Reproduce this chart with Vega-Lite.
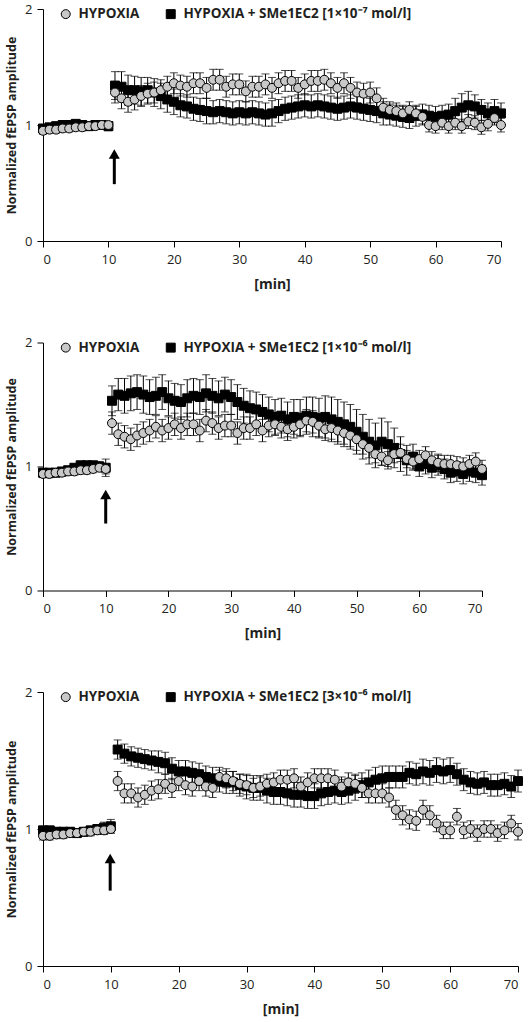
{
"$schema":"https://vega.github.io/schema/vega-lite/v6.json",
"padding":{"left":5,"top":3,"right":5,"bottom":3},
"spacing":45.5,
"config":{
"view":{"stroke":null},
"font":"Open Sans",
"axis":{"domainColor":"black","domainWidth":1,"tickColor":"black","tickWidth":1,"tickSize":6,"grid":false,"labelFont":"Open Sans","labelFontSize":13,"labelColor":"#231f20","titleFont":"Open Sans","titleFontSize":12.5,"titleFontWeight":"bold","titleColor":"#231f20"},
"axisX":{"labelPadding":6,"titlePadding":11,"labelAngle":0,"titleFontSize":14},
"axisY":{"labelPadding":5,"titlePadding":6,"format":"d"},
"legend":{"orient":"none","legendX":16,"legendY":-2,"direction":"horizontal","title":null,"labelFont":"Open Sans","labelFontWeight":"bold","labelFontSize":13.5,"labelColor":"#231f20","labelLimit":400,"symbolSize":80,"symbolStrokeColor":"black","symbolStrokeWidth":1,"labelOffset":6,"columnPadding":24}
},
"datasets":{
"arrows":[{"p":1,"t":10.9,"y0":0.49,"y1":0.72,"yh":0.75},{"p":2,"t":10.0,"y0":0.54,"y1":0.76,"yh":0.775},{"p":3,"t":9.9,"y0":0.55,"y1":0.77,"yh":0.785}],
"p1":[
{"s":"S","t":0,"v":0.97,"e":0.03},{"s":"S","t":1,"v":0.98,"e":0.03},{"s":"S","t":2,"v":0.99,"e":0.03},{"s":"S","t":3,"v":1.0,"e":0.03},{"s":"S","t":4,"v":1.0,"e":0.03},{"s":"S","t":5,"v":1.01,"e":0.03},{"s":"S","t":6,"v":1.0,"e":0.03},{"s":"S","t":7,"v":0.99,"e":0.03},{"s":"S","t":8,"v":1.0,"e":0.03},{"s":"S","t":9,"v":1.0,"e":0.03},{"s":"S","t":10,"v":0.99,"e":0.04},
{"s":"S","t":11,"v":1.34,"e":0.12},{"s":"S","t":12,"v":1.33,"e":0.13},{"s":"S","t":13,"v":1.3,"e":0.13},{"s":"S","t":14,"v":1.3,"e":0.12},{"s":"S","t":15,"v":1.29,"e":0.12},{"s":"S","t":16,"v":1.3,"e":0.11},{"s":"S","t":17,"v":1.28,"e":0.12},{"s":"S","t":18,"v":1.25,"e":0.11},{"s":"S","t":19,"v":1.22,"e":0.11},{"s":"S","t":20,"v":1.2,"e":0.11},
{"s":"S","t":21,"v":1.17,"e":0.1},{"s":"S","t":22,"v":1.16,"e":0.1},{"s":"S","t":23,"v":1.14,"e":0.1},{"s":"S","t":24,"v":1.13,"e":0.1},{"s":"S","t":25,"v":1.12,"e":0.11},{"s":"S","t":26,"v":1.11,"e":0.1},{"s":"S","t":27,"v":1.12,"e":0.1},{"s":"S","t":28,"v":1.11,"e":0.1},{"s":"S","t":29,"v":1.1,"e":0.1},{"s":"S","t":30,"v":1.11,"e":0.1},
{"s":"S","t":31,"v":1.1,"e":0.1},{"s":"S","t":32,"v":1.11,"e":0.1},{"s":"S","t":33,"v":1.1,"e":0.1},{"s":"S","t":34,"v":1.09,"e":0.1},{"s":"S","t":35,"v":1.1,"e":0.11},{"s":"S","t":36,"v":1.12,"e":0.1},{"s":"S","t":37,"v":1.14,"e":0.1},{"s":"S","t":38,"v":1.15,"e":0.1},{"s":"S","t":39,"v":1.16,"e":0.1},{"s":"S","t":40,"v":1.17,"e":0.1},
{"s":"S","t":41,"v":1.16,"e":0.1},{"s":"S","t":42,"v":1.17,"e":0.1},{"s":"S","t":43,"v":1.16,"e":0.1},{"s":"S","t":44,"v":1.15,"e":0.1},{"s":"S","t":45,"v":1.14,"e":0.1},{"s":"S","t":46,"v":1.15,"e":0.1},{"s":"S","t":47,"v":1.16,"e":0.1},{"s":"S","t":48,"v":1.15,"e":0.1},{"s":"S","t":49,"v":1.14,"e":0.1},{"s":"S","t":50,"v":1.13,"e":0.1},
{"s":"S","t":51,"v":1.12,"e":0.1},{"s":"S","t":52,"v":1.1,"e":0.1},{"s":"S","t":53,"v":1.09,"e":0.09},{"s":"S","t":54,"v":1.08,"e":0.09},{"s":"S","t":55,"v":1.07,"e":0.09},{"s":"S","t":56,"v":1.06,"e":0.09},{"s":"S","t":57,"v":1.08,"e":0.09},{"s":"S","t":58,"v":1.09,"e":0.09},{"s":"S","t":59,"v":1.08,"e":0.09},{"s":"S","t":60,"v":1.07,"e":0.09},
{"s":"S","t":61,"v":1.08,"e":0.09},{"s":"S","t":62,"v":1.09,"e":0.09},{"s":"S","t":63,"v":1.12,"e":0.11},{"s":"S","t":64,"v":1.15,"e":0.12},{"s":"S","t":65,"v":1.17,"e":0.12},{"s":"S","t":66,"v":1.16,"e":0.1},{"s":"S","t":67,"v":1.13,"e":0.09},{"s":"S","t":68,"v":1.1,"e":0.09},{"s":"S","t":69,"v":1.12,"e":0.1},{"s":"S","t":70,"v":1.1,"e":0.09},
{"s":"H","t":0,"v":0.95,"e":0.03},{"s":"H","t":1,"v":0.96,"e":0.03},{"s":"H","t":2,"v":0.96,"e":0.03},{"s":"H","t":3,"v":0.97,"e":0.03},{"s":"H","t":4,"v":0.97,"e":0.03},{"s":"H","t":5,"v":0.98,"e":0.03},{"s":"H","t":6,"v":0.98,"e":0.03},{"s":"H","t":7,"v":0.99,"e":0.03},{"s":"H","t":8,"v":0.99,"e":0.03},{"s":"H","t":9,"v":1.0,"e":0.03},{"s":"H","t":10,"v":1.0,"e":0.03},
{"s":"H","t":11,"v":1.28,"e":0.09},{"s":"H","t":12,"v":1.23,"e":0.09},{"s":"H","t":13,"v":1.2,"e":0.09},{"s":"H","t":14,"v":1.22,"e":0.09},{"s":"H","t":15,"v":1.25,"e":0.09},{"s":"H","t":16,"v":1.27,"e":0.09},{"s":"H","t":17,"v":1.28,"e":0.09},{"s":"H","t":18,"v":1.3,"e":0.09},{"s":"H","t":19,"v":1.33,"e":0.09},{"s":"H","t":20,"v":1.36,"e":0.09},
{"s":"H","t":21,"v":1.34,"e":0.09},{"s":"H","t":22,"v":1.33,"e":0.09},{"s":"H","t":23,"v":1.36,"e":0.09},{"s":"H","t":24,"v":1.36,"e":0.09},{"s":"H","t":25,"v":1.32,"e":0.09},{"s":"H","t":26,"v":1.39,"e":0.09},{"s":"H","t":27,"v":1.39,"e":0.09},{"s":"H","t":28,"v":1.33,"e":0.09},{"s":"H","t":29,"v":1.35,"e":0.09},{"s":"H","t":30,"v":1.35,"e":0.09},
{"s":"H","t":31,"v":1.29,"e":0.09},{"s":"H","t":32,"v":1.33,"e":0.09},{"s":"H","t":33,"v":1.33,"e":0.09},{"s":"H","t":34,"v":1.35,"e":0.09},{"s":"H","t":35,"v":1.32,"e":0.09},{"s":"H","t":36,"v":1.36,"e":0.09},{"s":"H","t":37,"v":1.38,"e":0.09},{"s":"H","t":38,"v":1.38,"e":0.09},{"s":"H","t":39,"v":1.32,"e":0.09},{"s":"H","t":40,"v":1.35,"e":0.09},
{"s":"H","t":41,"v":1.38,"e":0.09},{"s":"H","t":42,"v":1.38,"e":0.09},{"s":"H","t":43,"v":1.39,"e":0.09},{"s":"H","t":44,"v":1.36,"e":0.09},{"s":"H","t":45,"v":1.32,"e":0.09},{"s":"H","t":46,"v":1.36,"e":0.09},{"s":"H","t":47,"v":1.32,"e":0.09},{"s":"H","t":48,"v":1.28,"e":0.09},{"s":"H","t":49,"v":1.27,"e":0.09},{"s":"H","t":50,"v":1.28,"e":0.09},
{"s":"H","t":51,"v":1.23,"e":0.09},{"s":"H","t":52,"v":1.15,"e":0.08},{"s":"H","t":53,"v":1.13,"e":0.07},{"s":"H","t":54,"v":1.12,"e":0.07},{"s":"H","t":55,"v":1.1,"e":0.07},{"s":"H","t":56,"v":1.13,"e":0.07},{"s":"H","t":57,"v":1.1,"e":0.06},{"s":"H","t":58,"v":1.07,"e":0.06},{"s":"H","t":59,"v":1.0,"e":0.06},{"s":"H","t":60,"v":0.99,"e":0.06},
{"s":"H","t":61,"v":1.02,"e":0.06},{"s":"H","t":62,"v":0.99,"e":0.06},{"s":"H","t":63,"v":1.02,"e":0.06},{"s":"H","t":64,"v":0.99,"e":0.06},{"s":"H","t":65,"v":1.03,"e":0.06},{"s":"H","t":66,"v":1.02,"e":0.06},{"s":"H","t":67,"v":0.98,"e":0.06},{"s":"H","t":68,"v":1.01,"e":0.06},{"s":"H","t":69,"v":1.06,"e":0.06},{"s":"H","t":70,"v":1.0,"e":0.06}
],
"p2":[
{"s":"S","t":0,"v":0.95,"e":0.03},{"s":"S","t":1,"v":0.95,"e":0.03},{"s":"S","t":2,"v":0.95,"e":0.03},{"s":"S","t":3,"v":0.96,"e":0.03},{"s":"S","t":4,"v":0.97,"e":0.03},{"s":"S","t":5,"v":0.99,"e":0.03},{"s":"S","t":6,"v":1.01,"e":0.03},{"s":"S","t":7,"v":1.01,"e":0.03},{"s":"S","t":8,"v":1.01,"e":0.03},{"s":"S","t":9,"v":1.0,"e":0.04},{"s":"S","t":10,"v":0.99,"e":0.07},
{"s":"S","t":11,"v":1.53,"e":0.12},{"s":"S","t":12,"v":1.58,"e":0.13},{"s":"S","t":13,"v":1.57,"e":0.14},{"s":"S","t":14,"v":1.59,"e":0.14},{"s":"S","t":15,"v":1.6,"e":0.14},{"s":"S","t":16,"v":1.58,"e":0.15},{"s":"S","t":17,"v":1.56,"e":0.14},{"s":"S","t":18,"v":1.57,"e":0.15},{"s":"S","t":19,"v":1.6,"e":0.14},{"s":"S","t":20,"v":1.55,"e":0.14},
{"s":"S","t":21,"v":1.53,"e":0.14},{"s":"S","t":22,"v":1.52,"e":0.14},{"s":"S","t":23,"v":1.55,"e":0.15},{"s":"S","t":24,"v":1.57,"e":0.14},{"s":"S","t":25,"v":1.56,"e":0.14},{"s":"S","t":26,"v":1.59,"e":0.15},{"s":"S","t":27,"v":1.57,"e":0.14},{"s":"S","t":28,"v":1.55,"e":0.14},{"s":"S","t":29,"v":1.58,"e":0.14},{"s":"S","t":30,"v":1.56,"e":0.14},
{"s":"S","t":31,"v":1.52,"e":0.14},{"s":"S","t":32,"v":1.49,"e":0.14},{"s":"S","t":33,"v":1.47,"e":0.14},{"s":"S","t":34,"v":1.46,"e":0.14},{"s":"S","t":35,"v":1.44,"e":0.14},{"s":"S","t":36,"v":1.42,"e":0.14},{"s":"S","t":37,"v":1.4,"e":0.14},{"s":"S","t":38,"v":1.41,"e":0.14},{"s":"S","t":39,"v":1.38,"e":0.14},{"s":"S","t":40,"v":1.4,"e":0.14},
{"s":"S","t":41,"v":1.39,"e":0.15},{"s":"S","t":42,"v":1.41,"e":0.15},{"s":"S","t":43,"v":1.4,"e":0.16},{"s":"S","t":44,"v":1.39,"e":0.16},{"s":"S","t":45,"v":1.4,"e":0.17},{"s":"S","t":46,"v":1.38,"e":0.18},{"s":"S","t":47,"v":1.36,"e":0.18},{"s":"S","t":48,"v":1.34,"e":0.18},{"s":"S","t":49,"v":1.32,"e":0.18},{"s":"S","t":50,"v":1.28,"e":0.18},
{"s":"S","t":51,"v":1.24,"e":0.18},{"s":"S","t":52,"v":1.2,"e":0.18},{"s":"S","t":53,"v":1.17,"e":0.18},{"s":"S","t":54,"v":1.2,"e":0.19},{"s":"S","t":55,"v":1.18,"e":0.18},{"s":"S","t":56,"v":1.15,"e":0.16},{"s":"S","t":57,"v":1.1,"e":0.14},{"s":"S","t":58,"v":1.05,"e":0.12},{"s":"S","t":59,"v":1.08,"e":0.1},{"s":"S","t":60,"v":1.0,"e":0.08},
{"s":"S","t":61,"v":1.02,"e":0.08},{"s":"S","t":62,"v":0.99,"e":0.08},{"s":"S","t":63,"v":1.01,"e":0.08},{"s":"S","t":64,"v":0.98,"e":0.08},{"s":"S","t":65,"v":0.95,"e":0.08},{"s":"S","t":66,"v":0.96,"e":0.08},{"s":"S","t":67,"v":0.94,"e":0.08},{"s":"S","t":68,"v":0.96,"e":0.08},{"s":"S","t":69,"v":0.95,"e":0.08},{"s":"S","t":70,"v":0.93,"e":0.08},
{"s":"H","t":0,"v":0.94,"e":0.03},{"s":"H","t":1,"v":0.94,"e":0.03},{"s":"H","t":2,"v":0.95,"e":0.03},{"s":"H","t":3,"v":0.95,"e":0.03},{"s":"H","t":4,"v":0.96,"e":0.03},{"s":"H","t":5,"v":0.96,"e":0.03},{"s":"H","t":6,"v":0.97,"e":0.03},{"s":"H","t":7,"v":0.97,"e":0.03},{"s":"H","t":8,"v":0.98,"e":0.03},{"s":"H","t":9,"v":0.99,"e":0.03},{"s":"H","t":10,"v":0.98,"e":0.04},
{"s":"H","t":11,"v":1.35,"e":0.09},{"s":"H","t":12,"v":1.26,"e":0.09},{"s":"H","t":13,"v":1.24,"e":0.09},{"s":"H","t":14,"v":1.22,"e":0.09},{"s":"H","t":15,"v":1.25,"e":0.09},{"s":"H","t":16,"v":1.27,"e":0.09},{"s":"H","t":17,"v":1.29,"e":0.09},{"s":"H","t":18,"v":1.32,"e":0.09},{"s":"H","t":19,"v":1.29,"e":0.09},{"s":"H","t":20,"v":1.31,"e":0.09},
{"s":"H","t":21,"v":1.34,"e":0.09},{"s":"H","t":22,"v":1.31,"e":0.09},{"s":"H","t":23,"v":1.34,"e":0.09},{"s":"H","t":24,"v":1.34,"e":0.09},{"s":"H","t":25,"v":1.29,"e":0.09},{"s":"H","t":26,"v":1.37,"e":0.09},{"s":"H","t":27,"v":1.35,"e":0.09},{"s":"H","t":28,"v":1.31,"e":0.09},{"s":"H","t":29,"v":1.33,"e":0.09},{"s":"H","t":30,"v":1.33,"e":0.09},
{"s":"H","t":31,"v":1.27,"e":0.09},{"s":"H","t":32,"v":1.31,"e":0.09},{"s":"H","t":33,"v":1.31,"e":0.09},{"s":"H","t":34,"v":1.34,"e":0.09},{"s":"H","t":35,"v":1.29,"e":0.09},{"s":"H","t":36,"v":1.33,"e":0.09},{"s":"H","t":37,"v":1.34,"e":0.09},{"s":"H","t":38,"v":1.32,"e":0.09},{"s":"H","t":39,"v":1.3,"e":0.09},{"s":"H","t":40,"v":1.32,"e":0.09},
{"s":"H","t":41,"v":1.34,"e":0.09},{"s":"H","t":42,"v":1.37,"e":0.09},{"s":"H","t":43,"v":1.36,"e":0.09},{"s":"H","t":44,"v":1.33,"e":0.09},{"s":"H","t":45,"v":1.3,"e":0.09},{"s":"H","t":46,"v":1.31,"e":0.09},{"s":"H","t":47,"v":1.29,"e":0.09},{"s":"H","t":48,"v":1.27,"e":0.09},{"s":"H","t":49,"v":1.25,"e":0.09},{"s":"H","t":50,"v":1.22,"e":0.09},
{"s":"H","t":51,"v":1.18,"e":0.08},{"s":"H","t":52,"v":1.15,"e":0.08},{"s":"H","t":53,"v":1.1,"e":0.07},{"s":"H","t":54,"v":1.08,"e":0.07},{"s":"H","t":55,"v":1.05,"e":0.07},{"s":"H","t":56,"v":1.1,"e":0.07},{"s":"H","t":57,"v":1.11,"e":0.07},{"s":"H","t":58,"v":1.06,"e":0.07},{"s":"H","t":59,"v":1.04,"e":0.07},{"s":"H","t":60,"v":1.06,"e":0.07},
{"s":"H","t":61,"v":1.09,"e":0.07},{"s":"H","t":62,"v":1.05,"e":0.07},{"s":"H","t":63,"v":1.03,"e":0.07},{"s":"H","t":64,"v":1.02,"e":0.07},{"s":"H","t":65,"v":1.02,"e":0.07},{"s":"H","t":66,"v":1.01,"e":0.07},{"s":"H","t":67,"v":1.0,"e":0.07},{"s":"H","t":68,"v":1.02,"e":0.07},{"s":"H","t":69,"v":1.04,"e":0.07},{"s":"H","t":70,"v":0.98,"e":0.07}
],
"p3":[
{"s":"S","t":0,"v":0.99,"e":0.03},{"s":"S","t":1,"v":0.99,"e":0.03},{"s":"S","t":2,"v":0.98,"e":0.03},{"s":"S","t":3,"v":0.98,"e":0.03},{"s":"S","t":4,"v":0.98,"e":0.03},{"s":"S","t":5,"v":0.97,"e":0.03},{"s":"S","t":6,"v":0.98,"e":0.03},{"s":"S","t":7,"v":0.99,"e":0.03},{"s":"S","t":8,"v":1.0,"e":0.03},{"s":"S","t":9,"v":1.01,"e":0.04},{"s":"S","t":10,"v":1.02,"e":0.05},
{"s":"S","t":11,"v":1.58,"e":0.07},{"s":"S","t":12,"v":1.55,"e":0.07},{"s":"S","t":13,"v":1.53,"e":0.07},{"s":"S","t":14,"v":1.52,"e":0.07},{"s":"S","t":15,"v":1.51,"e":0.07},{"s":"S","t":16,"v":1.5,"e":0.07},{"s":"S","t":17,"v":1.49,"e":0.08},{"s":"S","t":18,"v":1.48,"e":0.08},{"s":"S","t":19,"v":1.44,"e":0.08},{"s":"S","t":20,"v":1.42,"e":0.08},
{"s":"S","t":21,"v":1.42,"e":0.08},{"s":"S","t":22,"v":1.41,"e":0.08},{"s":"S","t":23,"v":1.4,"e":0.08},{"s":"S","t":24,"v":1.38,"e":0.08},{"s":"S","t":25,"v":1.37,"e":0.08},{"s":"S","t":26,"v":1.35,"e":0.08},{"s":"S","t":27,"v":1.34,"e":0.08},{"s":"S","t":28,"v":1.34,"e":0.08},{"s":"S","t":29,"v":1.32,"e":0.08},{"s":"S","t":30,"v":1.31,"e":0.09},
{"s":"S","t":31,"v":1.3,"e":0.09},{"s":"S","t":32,"v":1.3,"e":0.09},{"s":"S","t":33,"v":1.28,"e":0.09},{"s":"S","t":34,"v":1.27,"e":0.09},{"s":"S","t":35,"v":1.27,"e":0.09},{"s":"S","t":36,"v":1.26,"e":0.09},{"s":"S","t":37,"v":1.25,"e":0.09},{"s":"S","t":38,"v":1.25,"e":0.09},{"s":"S","t":39,"v":1.24,"e":0.09},{"s":"S","t":40,"v":1.24,"e":0.09},
{"s":"S","t":41,"v":1.26,"e":0.09},{"s":"S","t":42,"v":1.27,"e":0.09},{"s":"S","t":43,"v":1.28,"e":0.09},{"s":"S","t":44,"v":1.27,"e":0.09},{"s":"S","t":45,"v":1.28,"e":0.09},{"s":"S","t":46,"v":1.3,"e":0.09},{"s":"S","t":47,"v":1.32,"e":0.09},{"s":"S","t":48,"v":1.34,"e":0.09},{"s":"S","t":49,"v":1.36,"e":0.09},{"s":"S","t":50,"v":1.37,"e":0.09},
{"s":"S","t":51,"v":1.38,"e":0.08},{"s":"S","t":52,"v":1.38,"e":0.08},{"s":"S","t":53,"v":1.38,"e":0.08},{"s":"S","t":54,"v":1.41,"e":0.08},{"s":"S","t":55,"v":1.4,"e":0.08},{"s":"S","t":56,"v":1.42,"e":0.09},{"s":"S","t":57,"v":1.41,"e":0.09},{"s":"S","t":58,"v":1.43,"e":0.09},{"s":"S","t":59,"v":1.42,"e":0.09},{"s":"S","t":60,"v":1.43,"e":0.09},
{"s":"S","t":61,"v":1.4,"e":0.08},{"s":"S","t":62,"v":1.36,"e":0.08},{"s":"S","t":63,"v":1.34,"e":0.08},{"s":"S","t":64,"v":1.33,"e":0.08},{"s":"S","t":65,"v":1.34,"e":0.08},{"s":"S","t":66,"v":1.32,"e":0.08},{"s":"S","t":67,"v":1.32,"e":0.08},{"s":"S","t":68,"v":1.33,"e":0.08},{"s":"S","t":69,"v":1.31,"e":0.08},{"s":"S","t":70,"v":1.35,"e":0.08},
{"s":"H","t":0,"v":0.95,"e":0.03},{"s":"H","t":1,"v":0.95,"e":0.03},{"s":"H","t":2,"v":0.96,"e":0.03},{"s":"H","t":3,"v":0.96,"e":0.03},{"s":"H","t":4,"v":0.97,"e":0.03},{"s":"H","t":5,"v":0.97,"e":0.03},{"s":"H","t":6,"v":0.98,"e":0.03},{"s":"H","t":7,"v":0.98,"e":0.03},{"s":"H","t":8,"v":0.99,"e":0.03},{"s":"H","t":9,"v":0.99,"e":0.03},{"s":"H","t":10,"v":1.0,"e":0.03},
{"s":"H","t":11,"v":1.35,"e":0.07},{"s":"H","t":12,"v":1.26,"e":0.07},{"s":"H","t":13,"v":1.26,"e":0.07},{"s":"H","t":14,"v":1.23,"e":0.07},{"s":"H","t":15,"v":1.25,"e":0.07},{"s":"H","t":16,"v":1.28,"e":0.07},{"s":"H","t":17,"v":1.29,"e":0.07},{"s":"H","t":18,"v":1.33,"e":0.07},{"s":"H","t":19,"v":1.3,"e":0.07},{"s":"H","t":20,"v":1.35,"e":0.07},
{"s":"H","t":21,"v":1.32,"e":0.07},{"s":"H","t":22,"v":1.31,"e":0.07},{"s":"H","t":23,"v":1.35,"e":0.07},{"s":"H","t":24,"v":1.31,"e":0.07},{"s":"H","t":25,"v":1.3,"e":0.07},{"s":"H","t":26,"v":1.38,"e":0.07},{"s":"H","t":27,"v":1.37,"e":0.07},{"s":"H","t":28,"v":1.35,"e":0.07},{"s":"H","t":29,"v":1.33,"e":0.07},{"s":"H","t":30,"v":1.32,"e":0.07},
{"s":"H","t":31,"v":1.3,"e":0.07},{"s":"H","t":32,"v":1.31,"e":0.07},{"s":"H","t":33,"v":1.33,"e":0.07},{"s":"H","t":34,"v":1.34,"e":0.07},{"s":"H","t":35,"v":1.36,"e":0.07},{"s":"H","t":36,"v":1.36,"e":0.07},{"s":"H","t":37,"v":1.37,"e":0.07},{"s":"H","t":38,"v":1.31,"e":0.07},{"s":"H","t":39,"v":1.34,"e":0.07},{"s":"H","t":40,"v":1.37,"e":0.07},
{"s":"H","t":41,"v":1.37,"e":0.07},{"s":"H","t":42,"v":1.37,"e":0.07},{"s":"H","t":43,"v":1.36,"e":0.07},{"s":"H","t":44,"v":1.31,"e":0.07},{"s":"H","t":45,"v":1.34,"e":0.07},{"s":"H","t":46,"v":1.33,"e":0.07},{"s":"H","t":47,"v":1.3,"e":0.07},{"s":"H","t":48,"v":1.26,"e":0.07},{"s":"H","t":49,"v":1.26,"e":0.07},{"s":"H","t":50,"v":1.26,"e":0.07},
{"s":"H","t":51,"v":1.23,"e":0.07},{"s":"H","t":52,"v":1.14,"e":0.07},{"s":"H","t":53,"v":1.1,"e":0.07},{"s":"H","t":54,"v":1.07,"e":0.07},{"s":"H","t":55,"v":1.06,"e":0.07},{"s":"H","t":56,"v":1.14,"e":0.07},{"s":"H","t":57,"v":1.1,"e":0.07},{"s":"H","t":58,"v":1.04,"e":0.06},{"s":"H","t":59,"v":0.99,"e":0.06},{"s":"H","t":60,"v":0.99,"e":0.06},
{"s":"H","t":61,"v":1.09,"e":0.06},{"s":"H","t":62,"v":0.99,"e":0.06},{"s":"H","t":63,"v":1.0,"e":0.06},{"s":"H","t":64,"v":0.97,"e":0.06},{"s":"H","t":65,"v":1.0,"e":0.06},{"s":"H","t":66,"v":1.0,"e":0.06},{"s":"H","t":67,"v":0.97,"e":0.06},{"s":"H","t":68,"v":0.99,"e":0.06},{"s":"H","t":69,"v":1.04,"e":0.06},{"s":"H","t":70,"v":0.98,"e":0.06}
]
},
"vconcat":[
{"width":458,"height":232,
"layer":[
{"data":{"name":"p1"},"mark":{"type":"errorbar","color":"black","thickness":1,"ticks":{"size":8,"thickness":1,"color":"black"}},
"encoding":{"x":{"field":"t","type":"quantitative","scale":{"domain":[0,70],"nice":false},"axis":{"values":[0,10,20,30,40,50,60,70],"title":"[min]"}},"y":{"field":"v","type":"quantitative","scale":{"domain":[0,2],"nice":false},"axis":{"values":[0,1,2],"title":"Normalized fEPSP amplitude"}},"yError":{"field":"e"}}},
{"data":{"name":"p1"},"mark":{"type":"point","filled":true,"strokeWidth":1,"size":80,"opacity":1},
"encoding":{"x":{"field":"t","type":"quantitative","title":"[min]"},"y":{"field":"v","type":"quantitative","title":"Normalized fEPSP amplitude"},
"shape":{"field":"s","type":"nominal","scale":{"domain":["H","S"],"range":["circle","square"]},"legend":{"labelExpr":"datum.value == 'H' ? 'HYPOXIA' : 'HYPOXIA + SMe1EC2 [1×10⁻⁷ mol/l]'"}},
"fill":{"field":"s","type":"nominal","scale":{"domain":["H","S"],"range":["#c8c8c8","#000000"]},"legend":{"labelExpr":"datum.value == 'H' ? 'HYPOXIA' : 'HYPOXIA + SMe1EC2 [1×10⁻⁷ mol/l]'"}},
"stroke":{"field":"s","type":"nominal","scale":{"domain":["H","S"],"range":["#000000","#000000"]},"legend":{"labelExpr":"datum.value == 'H' ? 'HYPOXIA' : 'HYPOXIA + SMe1EC2 [1×10⁻⁷ mol/l]'"}}}},
{"data":{"name":"arrows"},"transform":[{"filter":"datum.p == 1"}],"mark":{"type":"rule","color":"black","strokeWidth":3},
"encoding":{"x":{"field":"t","type":"quantitative","title":"[min]"},"y":{"field":"y0","type":"quantitative","title":"Normalized fEPSP amplitude"},"y2":{"field":"y1"}}},
{"data":{"name":"arrows"},"transform":[{"filter":"datum.p == 1"}],"mark":{"type":"point","shape":"triangle-up","filled":true,"color":"black","opacity":1,"size":120},
"encoding":{"x":{"field":"t","type":"quantitative","title":"[min]"},"y":{"field":"yh","type":"quantitative","title":"Normalized fEPSP amplitude"}}}
]},
{"width":439,"height":248,
"layer":[
{"data":{"name":"p2"},"mark":{"type":"errorbar","color":"black","thickness":1,"ticks":{"size":8,"thickness":1,"color":"black"}},
"encoding":{"x":{"field":"t","type":"quantitative","scale":{"domain":[0,70],"nice":false},"axis":{"values":[0,10,20,30,40,50,60,70],"title":"[min]"}},"y":{"field":"v","type":"quantitative","scale":{"domain":[0,2],"nice":false},"axis":{"values":[0,1,2],"title":"Normalized fEPSP amplitude"}},"yError":{"field":"e"}}},
{"data":{"name":"p2"},"mark":{"type":"point","filled":true,"strokeWidth":1,"size":80,"opacity":1},
"encoding":{"x":{"field":"t","type":"quantitative","title":"[min]"},"y":{"field":"v","type":"quantitative","title":"Normalized fEPSP amplitude"},
"shape":{"field":"s","type":"nominal","scale":{"domain":["H","S"],"range":["circle","square"]},"legend":{"labelExpr":"datum.value == 'H' ? 'HYPOXIA' : 'HYPOXIA + SMe1EC2 [1×10⁻⁶ mol/l]'"}},
"fill":{"field":"s","type":"nominal","scale":{"domain":["H","S"],"range":["#c8c8c8","#000000"]},"legend":{"labelExpr":"datum.value == 'H' ? 'HYPOXIA' : 'HYPOXIA + SMe1EC2 [1×10⁻⁶ mol/l]'"}},
"stroke":{"field":"s","type":"nominal","scale":{"domain":["H","S"],"range":["#000000","#000000"]},"legend":{"labelExpr":"datum.value == 'H' ? 'HYPOXIA' : 'HYPOXIA + SMe1EC2 [1×10⁻⁶ mol/l]'"}}}},
{"data":{"name":"arrows"},"transform":[{"filter":"datum.p == 2"}],"mark":{"type":"rule","color":"black","strokeWidth":3},
"encoding":{"x":{"field":"t","type":"quantitative","title":"[min]"},"y":{"field":"y0","type":"quantitative","title":"Normalized fEPSP amplitude"},"y2":{"field":"y1"}}},
{"data":{"name":"arrows"},"transform":[{"filter":"datum.p == 2"}],"mark":{"type":"point","shape":"triangle-up","filled":true,"color":"black","opacity":1,"size":120},
"encoding":{"x":{"field":"t","type":"quantitative","title":"[min]"},"y":{"field":"yh","type":"quantitative","title":"Normalized fEPSP amplitude"}}}
]},
{"width":475,"height":274,
"layer":[
{"data":{"name":"p3"},"mark":{"type":"errorbar","color":"black","thickness":1,"ticks":{"size":8,"thickness":1,"color":"black"}},
"encoding":{"x":{"field":"t","type":"quantitative","scale":{"domain":[0,70],"nice":false},"axis":{"values":[0,10,20,30,40,50,60,70],"title":"[min]"}},"y":{"field":"v","type":"quantitative","scale":{"domain":[0,2],"nice":false},"axis":{"values":[0,1,2],"title":"Normalized fEPSP amplitude"}},"yError":{"field":"e"}}},
{"data":{"name":"p3"},"mark":{"type":"point","filled":true,"strokeWidth":1,"size":80,"opacity":1},
"encoding":{"x":{"field":"t","type":"quantitative","title":"[min]"},"y":{"field":"v","type":"quantitative","title":"Normalized fEPSP amplitude"},
"shape":{"field":"s","type":"nominal","scale":{"domain":["H","S"],"range":["circle","square"]},"legend":{"labelExpr":"datum.value == 'H' ? 'HYPOXIA' : 'HYPOXIA + SMe1EC2 [3×10⁻⁶ mol/l]'"}},
"fill":{"field":"s","type":"nominal","scale":{"domain":["H","S"],"range":["#c8c8c8","#000000"]},"legend":{"labelExpr":"datum.value == 'H' ? 'HYPOXIA' : 'HYPOXIA + SMe1EC2 [3×10⁻⁶ mol/l]'"}},
"stroke":{"field":"s","type":"nominal","scale":{"domain":["H","S"],"range":["#000000","#000000"]},"legend":{"labelExpr":"datum.value == 'H' ? 'HYPOXIA' : 'HYPOXIA + SMe1EC2 [3×10⁻⁶ mol/l]'"}}}},
{"data":{"name":"arrows"},"transform":[{"filter":"datum.p == 3"}],"mark":{"type":"rule","color":"black","strokeWidth":3},
"encoding":{"x":{"field":"t","type":"quantitative","title":"[min]"},"y":{"field":"y0","type":"quantitative","title":"Normalized fEPSP amplitude"},"y2":{"field":"y1"}}},
{"data":{"name":"arrows"},"transform":[{"filter":"datum.p == 3"}],"mark":{"type":"point","shape":"triangle-up","filled":true,"color":"black","opacity":1,"size":120},
"encoding":{"x":{"field":"t","type":"quantitative","title":"[min]"},"y":{"field":"yh","type":"quantitative","title":"Normalized fEPSP amplitude"}}}
]}
],
"resolve":{"scale":{"shape":"independent","fill":"independent","stroke":"independent","x":"independent","y":"independent"},"legend":{"shape":"independent","fill":"independent","stroke":"independent"}}
}
